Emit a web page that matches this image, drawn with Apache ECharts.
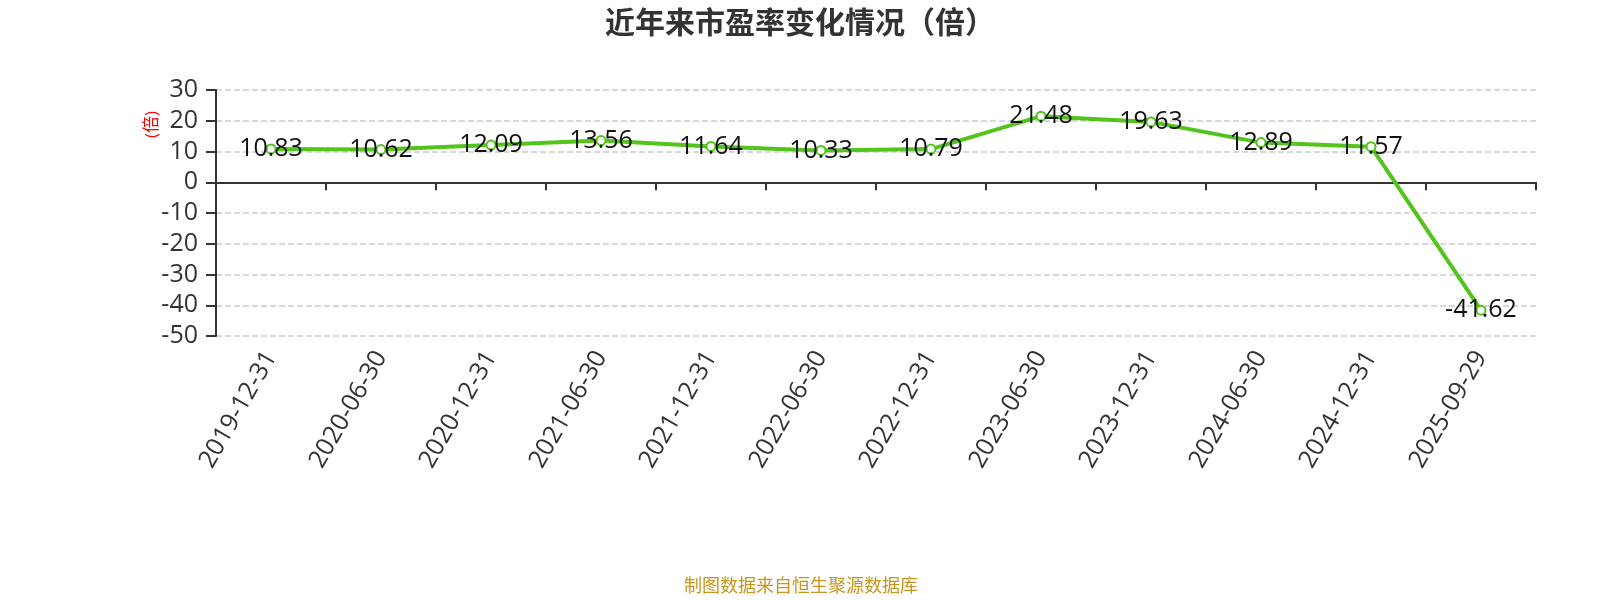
<!DOCTYPE html>
<html>
<head>
    <meta charset="utf-8">
    <title>近年来市盈率变化情况（倍）</title>
    <script src="https://cdn.jsdelivr.net/npm/echarts@6/dist/echarts.min.js"></script>
    <style>
        html, body { margin: 0; padding: 0; background: #fff; }
    </style>
</head>
<body>
    <div id="main" style="width: 1600px;height:600px;"></div>
    <script type="text/javascript">
        // 日期与市盈率
        var dates = ['2019-12-31', '2020-06-30', '2020-12-31', '2021-06-30', '2021-12-31', '2022-06-30',
            '2022-12-31', '2023-06-30', '2023-12-31', '2024-06-30', '2024-12-31', '2025-09-29'];
        var peValues = [10.83, 10.62, 12.09, 13.56, 11.64, 10.33, 10.79, 21.48, 19.63, 12.89, 11.57, -41.62];
        var yTicks = { min: -50, max: 30, interval: 10 };

        var myChart = echarts.init(document.getElementById('main'));

        var font = "'Open Sans', 'Noto Sans CJK SC', sans-serif";

        var option = {
            animation: false,
            textStyle: { fontFamily: font },
            title: {
                text: '近年来市盈率变化情况（倍）',
                left: 795,
                top: 4,
                textAlign: 'center',
                textStyle: { fontSize: 30, fontWeight: 'bold', color: '#333', fontFamily: font }
            },
            graphic: [{
                type: 'text',
                x: 144,
                y: 138,
                rotation: Math.PI / 2,
                style: { text: '(倍)', fill: '#f00', fontSize: 17, fontFamily: font }
            }, {
                type: 'text',
                x: 801,
                y: 578,
                style: { text: '制图数据来自恒生聚源数据库', fill: '#c8961e', fontSize: 18, fontFamily: font, align: 'center' }
            }],
            grid: { left: 216, right: 64, top: 90, bottom: 264 },
            xAxis: [{
                type: 'category',
                data: dates,
                boundaryGap: true,
                axisLine: { onZero: true, lineStyle: { color: '#333', width: 2 } },
                axisTick: { show: true, length: 8, lineStyle: { color: '#333', width: 2 } },
                axisLabel: { show: false }
            }, {
                type: 'category',
                data: dates,
                position: 'bottom',
                boundaryGap: true,
                axisLine: { show: false },
                axisTick: { show: false },
                axisLabel: { interval: 0, rotate: 60, fontSize: 25, color: '#333', margin: 17, fontFamily: font }
            }],
            yAxis: {
                type: 'value',
                min: yTicks.min,
                max: yTicks.max,
                interval: yTicks.interval,
                axisLine: { show: true, lineStyle: { color: '#333', width: 2 } },
                axisTick: { show: true, length: 10, lineStyle: { color: '#333', width: 2 } },
                axisLabel: { fontSize: 25, color: '#333', margin: 18, fontFamily: font },
                splitLine: { lineStyle: { type: 'dashed', color: '#ccc', width: 1.5 } }
            },
            series: [{
                type: 'line',
                data: peValues,
                xAxisIndex: 0,
                symbol: 'emptyCircle',
                symbolSize: 9,
                lineStyle: { color: '#52c41a', width: 4 },
                itemStyle: { color: '#52c41a', borderWidth: 2 },
                label: {
                    show: true,
                    position: 'inside',
                    fontSize: 25,
                    color: '#111',
                    fontFamily: font
                }
            }]
        };

        myChart.setOption(option);
    </script>
</body>
</html>
